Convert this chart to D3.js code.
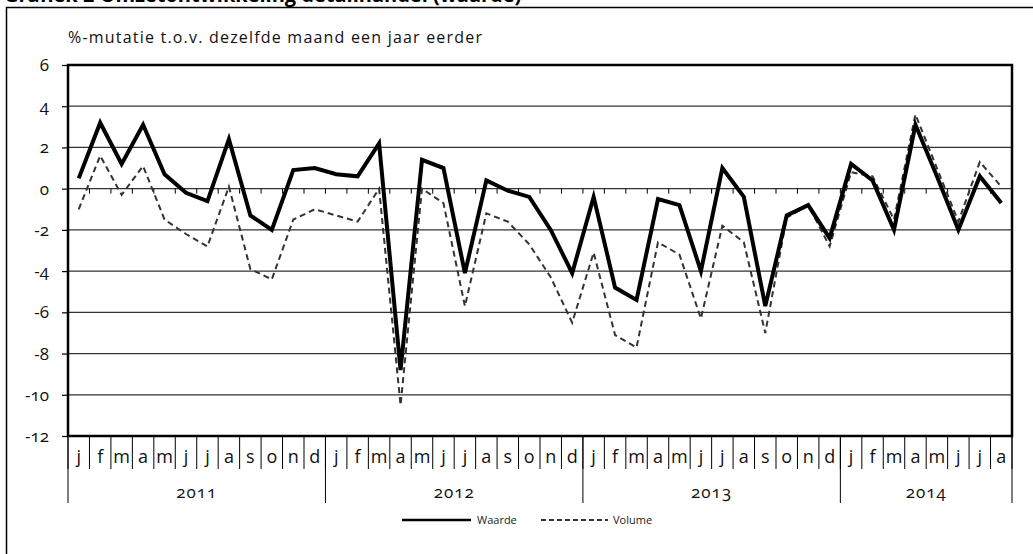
<!DOCTYPE html>
<html>
<head>
<meta charset="utf-8">
<script src="https://cdn.jsdelivr.net/npm/d3@7"></script>
<style>
  body { margin: 0; background: #fff; }
  svg { display: block; font-family: "Open Sans", Lato, sans-serif; font-variant-numeric: oldstyle-nums; }
</style>
</head>
<body>
<div id="chart"></div>
<script>
// data
const years = ['2011', '2012', '2013', '2014'];
const monthLetters = ['j', 'f', 'm', 'a', 'm', 'j', 'j', 'a', 's', 'o', 'n', 'd'];
const monthsPerYear = [12, 12, 12, 8];

const waarde = [
  0.5, 3.2, 1.2, 3.1, 0.7, -0.2, -0.6, 2.4, -1.3, -2.0, 0.9, 1.0,
  0.7, 0.6, 2.2, -8.8, 1.4, 1.0, -4.1, 0.4, -0.1, -0.4, -2.0, -4.1,
  -0.4, -4.8, -5.4, -0.5, -0.8, -4.0, 1.0, -0.4, -5.7, -1.3, -0.8, -2.4,
  1.2, 0.4, -2.0, 3.1, 0.6, -2.0, 0.6, -0.7
];
const volume = [
  -1.0, 1.6, -0.3, 1.1, -1.5, -2.2, -2.8, 0.1, -3.9, -4.4, -1.5, -1.0,
  -1.3, -1.6, 0.0, -10.5, 0.0, -0.7, -5.7, -1.2, -1.6, -2.7, -4.3, -6.5,
  -3.1, -7.1, -7.7, -2.6, -3.2, -6.3, -1.8, -2.6, -7.0, -1.4, -0.8, -2.8,
  0.8, 0.6, -1.5, 3.6, 1.0, -1.6, 1.3, 0.1
];
const yTicks = [6, 4, 2, 0, -2, -4, -6, -8, -10, -12];

const width = 1033;
const height = 554;
const plot = { left: 68, right: 1012, top: 65, bottom: 436 };

// one key per month
const keys = [];
const labels = [];
years.forEach((y, yi) => {
  for (let m = 0; m < monthsPerYear[yi]; m++) {
    keys.push(y + '-' + m);
    labels.push(monthLetters[m]);
  }
});

const x = d3.scaleBand().domain(keys).range([plot.left, plot.right]);
const y = d3.scaleLinear().domain([-12, 6]).range([plot.bottom, plot.top]);

const svg = d3.select('#chart')
  .append('svg')
  .attr('width', width)
  .attr('height', height);

// outer frame (runs off the page on right and bottom)
svg.append('rect')
  .attr('x', 6.5).attr('y', 7.5)
  .attr('width', 1100).attr('height', 600)
  .attr('fill', 'none')
  .attr('stroke', '#000')
  .attr('stroke-width', 1.5);

// title, only its lower edge is visible in the source
svg.append('text')
  .attr('x', 4)
  .attr('y', 2)
  .style('font-size', '20px')
  .style('font-weight', 'bold')
  .text('Grafiek 2 Omzetontwikkeling detailhandel (waarde)');

// y-axis title
svg.append('text')
  .attr('x', 68)
  .attr('y', 43)
  .style('font-size', '16px')
  .style('letter-spacing', '1.2px')
  .attr('fill', '#111')
  .text('%-mutatie t.o.v. dezelfde maand een jaar eerder');

// gridlines
svg.append('g')
  .selectAll('line')
  .data(yTicks)
  .join('line')
  .attr('x1', plot.left).attr('x2', plot.right)
  .attr('y1', d => y(d)).attr('y2', d => y(d))
  .attr('stroke', '#333')
  .attr('stroke-width', 1.2);

// y axis
const yAxis = d3.axisLeft(y).tickValues(yTicks).tickSize(6).tickPadding(13).tickFormat(d3.format('d'));
const yG = svg.append('g')
  .attr('transform', `translate(${plot.left},0)`)
  .call(yAxis);
yG.select('.domain').remove();
yG.selectAll('.tick line').attr('stroke', '#000').attr('stroke-width', 1.2);
yG.selectAll('.tick text')
  .style('font-size', '17px')
  .style('font-family', '"Open Sans", Lato, sans-serif')
  .attr('fill', '#111')
  .text(d => d < 0 ? '-' + Math.abs(d) : d);

// small ticks on zero line
const bounds = keys.slice(1).map(k => x(k));
svg.append('g')
  .selectAll('line')
  .data(bounds)
  .join('line')
  .attr('x1', d => d).attr('x2', d => d)
  .attr('y1', y(0)).attr('y2', y(0) + 5)
  .attr('stroke', '#000')
  .attr('stroke-width', 1);

// plot border
svg.append('rect')
  .attr('x', plot.left).attr('y', plot.top)
  .attr('width', plot.right - plot.left)
  .attr('height', plot.bottom - plot.top)
  .attr('fill', 'none')
  .attr('stroke', '#000')
  .attr('stroke-width', 2.5);

// category axis: month letters + separators
const catG = svg.append('g');
catG.selectAll('line.sep')
  .data(keys.map(k => x(k)).concat([plot.right]))
  .join('line')
  .attr('class', 'sep')
  .attr('x1', d => d).attr('x2', d => d)
  .attr('y1', plot.bottom).attr('y2', plot.bottom + 33)
  .attr('stroke', '#000')
  .attr('stroke-width', 1);
catG.selectAll('text')
  .data(keys)
  .join('text')
  .attr('x', d => x(d) + x.bandwidth() / 2)
  .attr('y', plot.bottom + 27)
  .attr('text-anchor', 'middle')
  .style('font-size', '18px')
  .attr('fill', '#111')
  .text((d, i) => labels[i]);

// years
let start = 0;
const yearSpans = years.map((yr, yi) => {
  const first = keys[start];
  const last = keys[start + monthsPerYear[yi] - 1];
  start += monthsPerYear[yi];
  return { yr, x0: x(first), x1: x(last) + x.bandwidth() };
});
const yrG = svg.append('g');
yrG.selectAll('line')
  .data(yearSpans.map(s => s.x0).concat([plot.right]))
  .join('line')
  .attr('x1', d => d).attr('x2', d => d)
  .attr('y1', plot.bottom).attr('y2', plot.bottom + 67)
  .attr('stroke', '#000')
  .attr('stroke-width', 1);
yrG.selectAll('text')
  .data(yearSpans)
  .join('text')
  .attr('x', d => (d.x0 + d.x1) / 2)
  .attr('y', plot.bottom + 62)
  .attr('text-anchor', 'middle')
  .style('font-size', '17px')
  .style('letter-spacing', '1px')
  .attr('fill', '#111')
  .text(d => d.yr);

// lines
const line = d3.line()
  .x((d, i) => x(keys[i]) + x.bandwidth() / 2)
  .y(d => y(d))
  .curve(d3.curveLinear);

svg.append('path')
  .datum(volume)
  .attr('d', line)
  .attr('fill', 'none')
  .attr('stroke', '#333')
  .attr('stroke-width', 2)
  .attr('stroke-dasharray', '6,4');

svg.append('path')
  .datum(waarde)
  .attr('d', line)
  .attr('fill', 'none')
  .attr('stroke', '#000')
  .attr('stroke-width', 4)
  .attr('stroke-linejoin', 'miter');

// legend
const leg = svg.append('g').attr('transform', 'translate(0,520)');
leg.append('line')
  .attr('x1', 402).attr('x2', 471)
  .attr('stroke', '#000').attr('stroke-width', 2.5);
leg.append('text')
  .attr('x', 477).attr('y', 4)
  .style('font-size', '11px')
  .attr('fill', '#222')
  .text('Waarde');
leg.append('line')
  .attr('x1', 541).attr('x2', 608)
  .attr('stroke', '#333').attr('stroke-width', 2)
  .attr('stroke-dasharray', '5,3');
leg.append('text')
  .attr('x', 613).attr('y', 4)
  .style('font-size', '11px')
  .attr('fill', '#222')
  .text('Volume');
</script>
</body>
</html>
